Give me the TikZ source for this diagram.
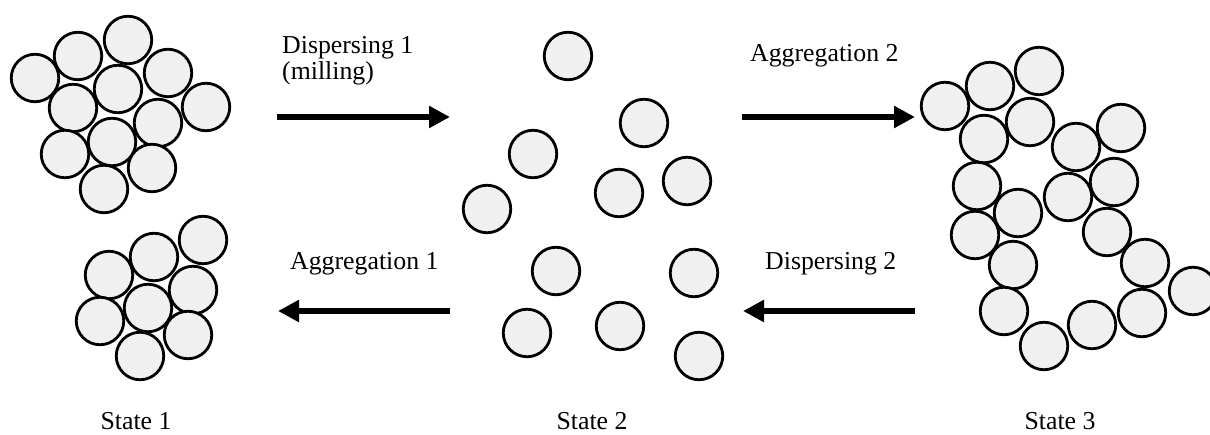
\documentclass[tikz,border=0pt]{standalone}
\usepackage{fontspec}
\setmainfont{Liberation Serif}
\usepackage{xcolor}
\usepackage{tikz}
\usetikzlibrary{arrows.meta}
\definecolor{beadfill}{HTML}{F0F0F0}

\begin{document}
\begin{tikzpicture}[
    x=1pt,y=-1pt,
    bead/.style={circle,draw=black,line width=2.8pt,fill=beadfill,
                 minimum size=47.5pt,inner sep=0pt},
    lbl/.style={font=\fontsize{25.8}{26.5}\selectfont,inner sep=0pt},
    arr/.style={-{Triangle[length=21pt,width=21pt]},line width=6pt,black},
  ]
    \useasboundingbox (0,0) rectangle (1210,435);

    % state 1: two packed clusters
    \foreach \p [count=\i] in {(35,78),(78,56),(128,40),(168,73),(206,107),(118,89),
        (73,108),(158,123),(65,154),(112,142),(152,168),(104,189)}
      \node[bead] (ca\i) at \p {};
    \foreach \p [count=\i] in {(203,240),(154,257),(109,275),(193,290),(148,308),
        (100,321),(188,335),(140,356)}
      \node[bead] (cb\i) at \p {};

    % state 2: loose particles
    \foreach \p [count=\i] in {(568,56),(644,123),(533,154),(619,193),(687,181),
        (487,209),(556,271),(694,273),(527,333),(620,326),(699,356)}
      \node[bead] (loose\i) at \p {};

    % state 3: open chain-like aggregate
    \foreach \p [count=\i] in {(945,106),(990,86),(1039,71),(984,139),(1030,122),
        (1076,147),(1121,128),(977,186),(1018,213),(1068,197),(1114,182),(975,235),
        (1107,232),(1013,265),(1145,263),(1193,291),(1004,311),(1142,313),
        (1092,325),(1044,346)}
      \node[bead] (chain\i) at \p {};

    % arrow ends
    \coordinate (disp1a) at (277,117);
    \coordinate (disp1b) at (450,117);
    \coordinate (aggr2a) at (742,117);
    \coordinate (aggr2b) at (915,117);
    \coordinate (aggr1a) at (450,311);
    \coordinate (aggr1b) at (278,311);
    \coordinate (disp2a) at (915,311);
    \coordinate (disp2b) at (743,311);

    \node[lbl,anchor=north west,align=left] (disp1) at (282,36) {Dispersing 1\\(milling)};
    \node[lbl,anchor=base west] (aggr2) at (750,62) {Aggregation 2};
    \node[lbl,anchor=base west] (aggr1) at (290,270) {Aggregation 1};
    \node[lbl,anchor=base west] (disp2) at (765,270) {Dispersing 2};

    \node[lbl,anchor=base] (state1) at (136,429) {State 1};
    \node[lbl,anchor=base] (state2) at (592,429) {State 2};
    \node[lbl,anchor=base] (state3) at (1060,429) {State 3};

    \draw[arr] (disp1a) -- (disp1b);
    \draw[arr] (aggr2a) -- (aggr2b);
    \draw[arr] (aggr1a) -- (aggr1b);
    \draw[arr] (disp2a) -- (disp2b);
  \end{tikzpicture}
\end{document}
